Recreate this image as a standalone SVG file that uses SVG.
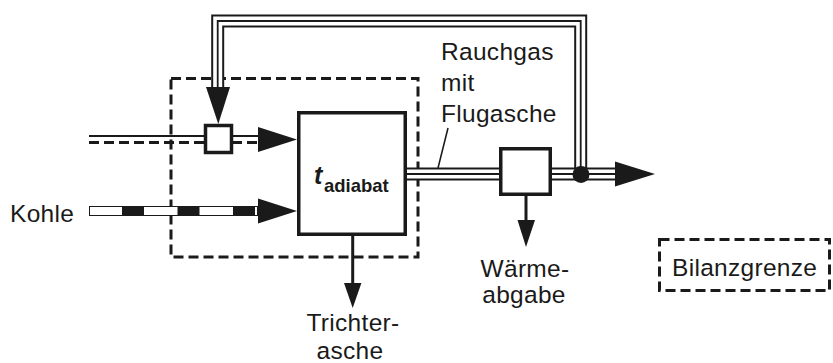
<svg xmlns="http://www.w3.org/2000/svg" width="833" height="363" viewBox="0 0 833 363">
<style>
  text { font-family: "Liberation Sans", Arial, sans-serif; fill: #1a1a1a; }
  .lbl { font-size: 24.5px; letter-spacing: 0.3px; }
  .box { fill: #fff; stroke: #1a1a1a; stroke-width: 3.5; }
  .bound { fill: none; stroke: #1a1a1a; stroke-width: 3; stroke-dasharray: 10 5; }
  .ah { fill: #1a1a1a; stroke: none; }
  .thin { fill: none; stroke: #1a1a1a; stroke-width: 2; }
  .dsh { fill: none; stroke: #1a1a1a; stroke-width: 3; stroke-dasharray: 10 5; }
  .t1 { fill: none; stroke: #1a1a1a; stroke-width: 13; }
  .t2 { fill: none; stroke: #fff; stroke-width: 9; }
  .t3 { fill: none; stroke: #1a1a1a; stroke-width: 1.8; }
  .k1 { fill: none; stroke: #1a1a1a; stroke-width: 10; }
  .k2 { fill: none; stroke: #fff; stroke-width: 8; }
  .k3 { fill: none; stroke: #1a1a1a; stroke-width: 10; stroke-dasharray: 22 33.5; stroke-dashoffset: 22.5; }
  .stem { fill: none; stroke: #1a1a1a; stroke-width: 3; }
</style>

<g id="bilanzgrenze">
  <rect class="bound" x="171" y="78.5" width="247" height="178.5"/>
</g>

<g id="connectors">
  <!-- incoming stream (solid + dashed) -->
  <path class="thin" d="M89 136 H205 M232 136 H258"/>
  <path class="dsh" d="M89 142.5 H205 M232 142.5 H258"/>
  <polygon class="ah" points="258,127 297,139.5 258,152"/>
  <!-- Kohle -->
  <path class="k1" d="M89 211 H258"/>
  <path class="k2" d="M90 211 H257"/>
  <path class="k3" d="M89 211 H258"/>
  <polygon class="ah" points="258,198.5 297,211 258,223.5"/>
  <!-- recycle flue gas -->
  <path class="t1" d="M217.7 87 V21 H580.7 V174"/>
  <path class="t2" d="M217.7 87 V21 H580.7 V174"/>
  <path class="t3" d="M217.7 87 V21 H580.7 V174"/>
  <polygon class="ah" points="206,87 230,87 218.3,124"/>
  <!-- flue gas out of furnace -->
  <path class="t1" d="M407 174 H499 M552 174 H615"/>
  <path class="t2" d="M407 174 H499 M552 174 H615"/>
  <path class="t3" d="M407 174 H499 M552 174 H615"/>
  <polygon class="ah" points="615,161.5 655,174 615,186.5"/>
  <circle cx="581" cy="174.5" r="8.5" fill="#1a1a1a"/>
  <!-- Trichterasche -->
  <path class="stem" d="M352.7 236 V284"/>
  <polygon class="ah" points="344,283 361.4,283 352.7,308"/>
  <!-- Waermeabgabe -->
  <path class="stem" d="M526 196 V221"/>
  <polygon class="ah" points="517.5,220 535,220 526,247"/>
  <!-- leader -->
  <path d="M448 128 L438 168" fill="none" stroke="#1a1a1a" stroke-width="1.5"/>
</g>

<g id="mischer">
  <rect class="box" x="205.5" y="125.5" width="26" height="27"/>
</g>

<g id="feuerung">
  <rect class="box" x="298.75" y="112.75" width="106.5" height="121.5"/>
  <text x="314" y="184" font-size="25" font-weight="bold" font-style="italic">t</text>
  <text x="324" y="192" font-size="18.5" font-weight="bold">adiabat</text>
</g>

<g id="waermetauscher">
  <rect class="box" x="500.75" y="148.75" width="49.5" height="45.5"/>
</g>

<g id="labels">
  <text class="lbl" x="10" y="222">Kohle</text>
  <text class="lbl" x="441" y="60">Rauchgas</text>
  <text class="lbl" x="441" y="91">mit</text>
  <text class="lbl" x="441" y="122">Flugasche</text>
  <text class="lbl" x="353" y="331" text-anchor="middle">Trichter-</text>
  <text class="lbl" x="350" y="359" text-anchor="middle">asche</text>
  <text class="lbl" x="525" y="277" text-anchor="middle">Wärme-</text>
  <text class="lbl" x="524" y="303" text-anchor="middle">abgabe</text>
</g>

<g id="legende">
  <rect class="bound" x="659.5" y="239.5" width="170" height="51"/>
  <text class="lbl" x="672" y="276">Bilanzgrenze</text>
</g>
</svg>
